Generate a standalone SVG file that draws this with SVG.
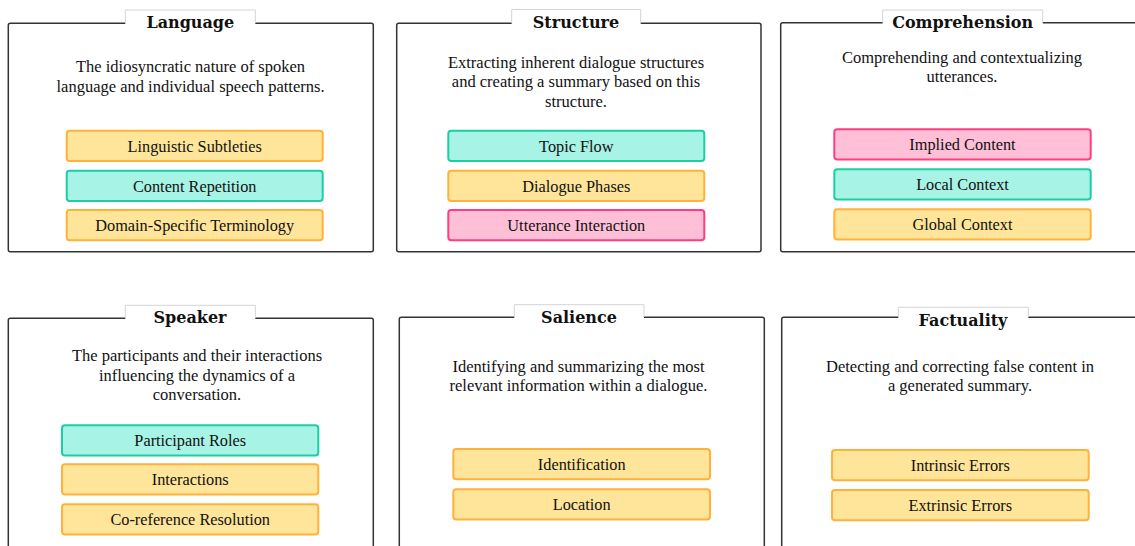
<svg xmlns="http://www.w3.org/2000/svg" width="1135" height="546" viewBox="0 0 1135 546">
<style>
.box{fill:#fff;stroke:#333;stroke-width:1.5}
.tabc{fill:#fff;stroke:none}
.tabl{fill:none;stroke:#d4d4d4;stroke-width:1}
.title{font-family:"DejaVu Serif",serif;font-size:16px;font-weight:bold;fill:#111;text-anchor:middle}
.desc{font-family:"Liberation Serif",serif;font-size:16.5px;fill:#111;text-anchor:middle}
.lbl{font-family:"Liberation Serif",serif;font-size:16.3px;fill:#111;text-anchor:middle}
.y{fill:#FFE599;stroke:#FFB13B;stroke-width:2}
.t{fill:#A7F3E5;stroke:#1BCFA5;stroke-width:2}
.p{fill:#FFBFD6;stroke:#FF3D7F;stroke-width:2}
</style>
<rect width="1135" height="546" fill="#fff"/>

<g id="language">
<rect class="box" x="8.3" y="23.3" width="365" height="228.4" rx="2"/>
<rect class="tabc" x="125.3" y="10" width="130" height="15"/>
<path class="tabl" d="M125.3 23 V10 H255.3 V23"/>
<text class="title" x="190.3" y="28">Language</text>
<text class="desc" x="190.5" y="72">The idiosyncratic nature of spoken</text>
<text class="desc" x="190.5" y="91.7">language and individual speech patterns.</text>
<rect class="y" x="66.7" y="130.7" width="256" height="30.3" rx="3"/>
<text class="lbl" x="194.7" y="151.7">Linguistic Subtleties</text>
<rect class="t" x="66.7" y="170.7" width="256" height="30.3" rx="3"/>
<text class="lbl" x="194.7" y="191.7">Content Repetition</text>
<rect class="y" x="66.7" y="210" width="256" height="30.3" rx="3"/>
<text class="lbl" x="194.7" y="231">Domain-Specific Terminology</text>
</g>

<g id="structure">
<rect class="box" x="396.7" y="23.3" width="364.3" height="228.4" rx="2"/>
<rect class="tabc" x="511.7" y="9.5" width="129" height="15.5"/>
<path class="tabl" d="M511.7 23 V9.5 H640.7 V23"/>
<text class="title" x="576" y="28">Structure</text>
<text class="desc" x="576" y="68">Extracting inherent dialogue structures</text>
<text class="desc" x="576" y="87.3">and creating a summary based on this</text>
<text class="desc" x="576" y="106.7">structure.</text>
<rect class="t" x="448.3" y="130.7" width="256" height="30.3" rx="3"/>
<text class="lbl" x="576.3" y="151.7">Topic Flow</text>
<rect class="y" x="448.3" y="170.7" width="256" height="30.3" rx="3"/>
<text class="lbl" x="576.3" y="191.7">Dialogue Phases</text>
<rect class="p" x="448.3" y="210" width="256" height="30.3" rx="3"/>
<text class="lbl" x="576.3" y="231">Utterance Interaction</text>
</g>

<g id="comprehension">
<rect class="box" x="780.7" y="22.7" width="370" height="229" rx="2"/>
<rect class="tabc" x="882.7" y="10" width="160" height="14"/>
<path class="tabl" d="M882.7 22.5 V10 H1042.7 V22.5"/>
<text class="title" x="962.7" y="28">Comprehension</text>
<text class="desc" x="962" y="62.7">Comprehending and contextualizing</text>
<text class="desc" x="962" y="81.7">utterances.</text>
<rect class="p" x="834.3" y="129.3" width="256.4" height="30.3" rx="3"/>
<text class="lbl" x="962.5" y="150.3">Implied Content</text>
<rect class="t" x="834.3" y="169.3" width="256.4" height="30.3" rx="3"/>
<text class="lbl" x="962.5" y="190.3">Local Context</text>
<rect class="y" x="834.3" y="209.3" width="256.4" height="30.3" rx="3"/>
<text class="lbl" x="962.5" y="230.3">Global Context</text>
</g>

<g id="speaker">
<rect class="box" x="8.3" y="318.3" width="365" height="240" rx="2"/>
<rect class="tabc" x="125.3" y="305.3" width="130" height="14.5"/>
<path class="tabl" d="M125.3 318 V305.3 H255.3 V318"/>
<text class="title" x="190" y="323">Speaker</text>
<text class="desc" x="197" y="361">The participants and their interactions</text>
<text class="desc" x="197" y="380.7">influencing the dynamics of a</text>
<text class="desc" x="197" y="400">conversation.</text>
<rect class="t" x="62" y="425.3" width="256.3" height="30.3" rx="3"/>
<text class="lbl" x="190.2" y="446.3">Participant Roles</text>
<rect class="y" x="62" y="464.3" width="256.3" height="30.3" rx="3"/>
<text class="lbl" x="190.2" y="485.3">Interactions</text>
<rect class="y" x="62" y="504.3" width="256.3" height="30.3" rx="3"/>
<text class="lbl" x="190.2" y="525.3">Co-reference Resolution</text>
</g>

<g id="salience">
<rect class="box" x="399.3" y="317.3" width="365" height="240" rx="2"/>
<rect class="tabc" x="514.3" y="304.7" width="129.7" height="14"/>
<path class="tabl" d="M514.3 317 V304.7 H644 V317"/>
<text class="title" x="579" y="322.7">Salience</text>
<text class="desc" x="578.5" y="371.7">Identifying and summarizing the most</text>
<text class="desc" x="578.5" y="391">relevant information within a dialogue.</text>
<rect class="y" x="453.3" y="449" width="256.7" height="30.3" rx="3"/>
<text class="lbl" x="581.7" y="470">Identification</text>
<rect class="y" x="453.3" y="489.3" width="256.7" height="30.3" rx="3"/>
<text class="lbl" x="581.7" y="510.3">Location</text>
</g>

<g id="factuality">
<rect class="box" x="781.7" y="317.3" width="370" height="240" rx="2"/>
<rect class="tabc" x="898.3" y="307.3" width="130" height="11.5"/>
<path class="tabl" d="M898.3 317 V307.3 H1028.3 V317"/>
<text class="title" x="963" y="326">Factuality</text>
<text class="desc" x="960" y="371.7">Detecting and correcting false content in</text>
<text class="desc" x="960" y="391">a generated summary.</text>
<rect class="y" x="832" y="450" width="256.7" height="30.3" rx="3"/>
<text class="lbl" x="960.3" y="471">Intrinsic Errors</text>
<rect class="y" x="832" y="490" width="256.7" height="30.3" rx="3"/>
<text class="lbl" x="960.3" y="511">Extrinsic Errors</text>
</g>

<g id="connectors"></g>
</svg>
